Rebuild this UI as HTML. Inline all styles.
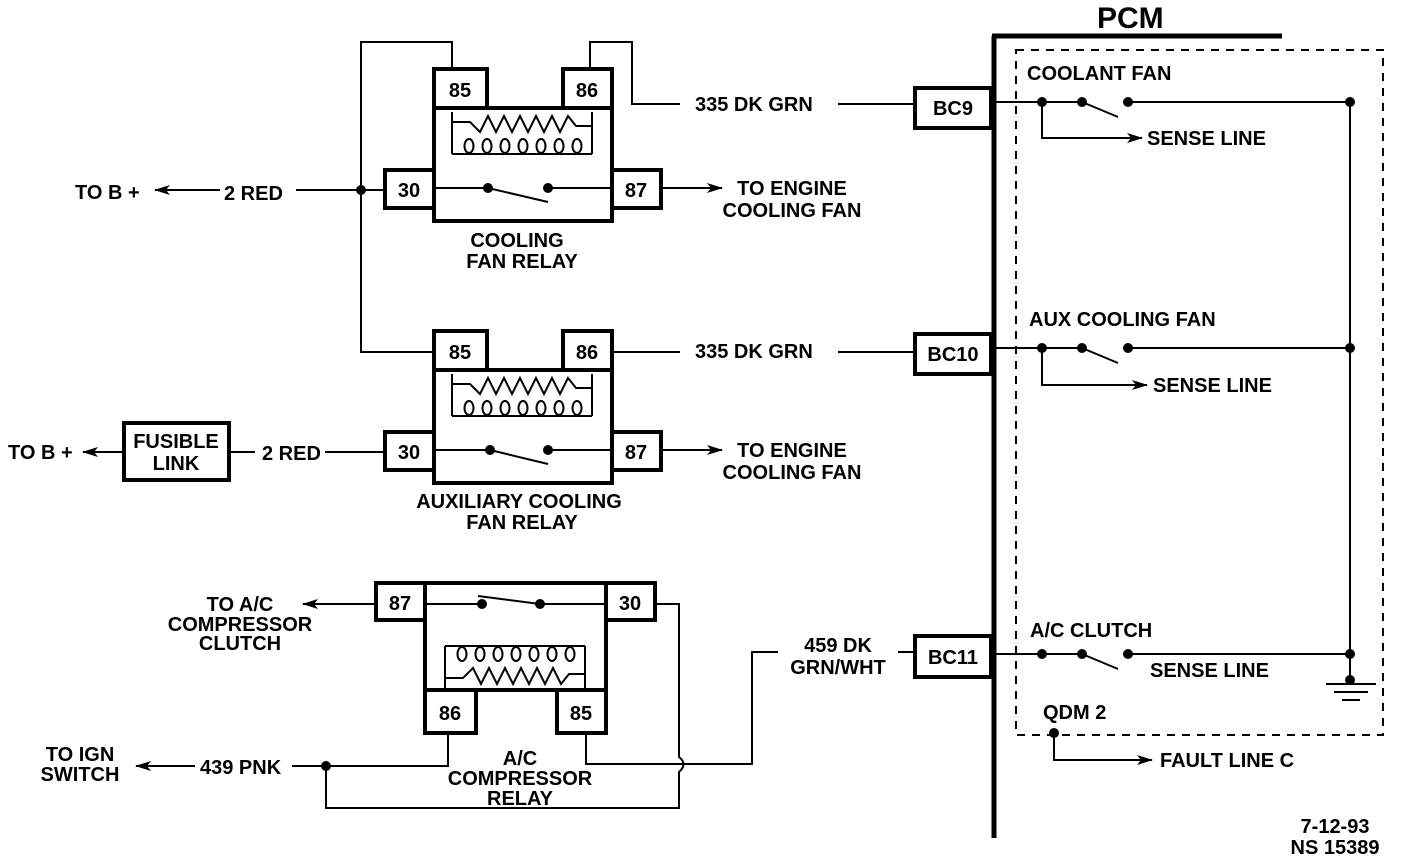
<!DOCTYPE html>
<html><head><meta charset="utf-8"><style>
html,body{margin:0;padding:0;background:#fff;}
svg{display:block;}
text{font-family:"Liberation Sans",sans-serif;font-weight:bold;font-size:20px;fill:#000;}
</style></head><body>
<svg width="1408" height="862" viewBox="0 0 1408 862" xmlns="http://www.w3.org/2000/svg">
<defs>
<marker id="ar" viewBox="0 0 16 10" refX="15" refY="5" markerWidth="16" markerHeight="10" markerUnits="userSpaceOnUse" orient="auto"><path d="M0,0 L16,5 L0,10 L4,5 Z" fill="#000"/></marker>
<g id="coil" fill="none" stroke="#000" stroke-width="2">
<path d="M0,2 V44 M140,2 V44"/>
<path d="M0,12 H18 L28,22 L36,6 L44,22 L52,6 L60,22 L68,6 L76,22 L84,6 L92,22 L100,6 L108,22 L116,6 L124,16 H140"/>
<path d="M0,44 H140"/>
<ellipse cx="17" cy="36" rx="4.5" ry="7"/><ellipse cx="35" cy="36" rx="4.5" ry="7"/><ellipse cx="53" cy="36" rx="4.5" ry="7"/><ellipse cx="71" cy="36" rx="4.5" ry="7"/><ellipse cx="89" cy="36" rx="4.5" ry="7"/><ellipse cx="107" cy="36" rx="4.5" ry="7"/><ellipse cx="125" cy="36" rx="4.5" ry="7"/>
</g>
</defs>
<g fill="none" stroke="#000">
<rect x="434" y="108" width="178" height="113" stroke-width="4"/>
<rect x="434" y="69" width="53" height="39" stroke-width="4"/>
<rect x="563" y="69" width="49" height="39" stroke-width="4"/>
<rect x="385" y="170" width="49" height="38" stroke-width="4"/>
<rect x="612" y="170" width="49" height="38" stroke-width="4"/>
<use href="#coil" x="452" y="110"/>
<path d="M434,188 H488 L548,202 M548,188 H612" stroke-width="2"/>
<path d="M452,69 V42 H361 V352 H434" stroke-width="2"/>
<path d="M590,69 V42 H632 V104 H680" stroke-width="2"/>
<path d="M838,104 H915" stroke-width="2"/>
<rect x="915" y="88" width="76" height="40" stroke-width="4"/>
<path d="M220,190 H155" stroke-width="2" marker-end="url(#ar)"/>
<path d="M296,190 H385" stroke-width="2"/>
<path d="M661,188 H722" stroke-width="2" marker-end="url(#ar)"/>
<rect x="434" y="370" width="178" height="113" stroke-width="4"/>
<rect x="434" y="331" width="53" height="39" stroke-width="4"/>
<rect x="563" y="331" width="49" height="39" stroke-width="4"/>
<rect x="385" y="432" width="49" height="38" stroke-width="4"/>
<rect x="612" y="432" width="49" height="38" stroke-width="4"/>
<use href="#coil" x="452" y="372"/>
<path d="M434,450 H490 L548,464 M548,450 H612" stroke-width="2"/>
<path d="M612,352 H680 M838,352 H915" stroke-width="2"/>
<rect x="915" y="334" width="76" height="40" stroke-width="4"/>
<rect x="124" y="423" width="105" height="57" stroke-width="4"/>
<path d="M124,452 H83" stroke-width="2" marker-end="url(#ar)"/>
<path d="M229,452 H255 M325,452 H385" stroke-width="2"/>
<path d="M661,450 H722" stroke-width="2" marker-end="url(#ar)"/>
<rect x="425" y="583" width="181" height="107" stroke-width="4"/>
<rect x="376" y="583" width="49" height="37" stroke-width="4"/>
<rect x="606" y="583" width="49" height="37" stroke-width="4"/>
<rect x="425" y="690" width="51" height="43" stroke-width="4"/>
<rect x="557" y="690" width="49" height="43" stroke-width="4"/>
<use href="#coil" transform="translate(445,690) scale(1,-1)"/>
<path d="M425,604 H482 M478,596 L540,604 M540,604 H606" stroke-width="2"/>
<path d="M376,604 H303" stroke-width="2" marker-end="url(#ar)"/>
<path d="M655,604 H679 V757 Q688,764 679,772 V808 H326 V766" stroke-width="2"/>
<path d="M448,733 V766 H292" stroke-width="2"/>
<path d="M195,766 H136" stroke-width="2" marker-end="url(#ar)"/>
<path d="M586,733 V764 H752 V652 H778" stroke-width="2"/>
<path d="M898,652 H915" stroke-width="2"/>
<rect x="915" y="636" width="76" height="41" stroke-width="4"/>
<path d="M994,36 V838 M992,36 H1282" stroke-width="5"/>
<rect x="1016" y="50" width="367" height="685" stroke-width="2" stroke-dasharray="8,7"/>
<path d="M991,102 H1042 M1042,102 H1082 L1118,117 M1128,102 H1350 V680" stroke-width="2"/>
<path d="M1042,102 V138 H1142" stroke-width="2" marker-end="url(#ar)"/>
<path d="M991,348 H1082 L1118,363 M1128,348 H1350" stroke-width="2"/>
<path d="M1042,348 V385 H1147" stroke-width="2" marker-end="url(#ar)"/>
<path d="M991,654 H1082 L1118,669 M1128,654 H1350" stroke-width="2"/>
<path d="M1326,684 H1376 M1334,692 H1368 M1342,700 H1360" stroke-width="2"/>
<path d="M1054,733 V760 H1152" stroke-width="2" marker-end="url(#ar)"/>
</g>
<g fill="#000">
<circle cx="361" cy="190" r="5"/><circle cx="488" cy="188" r="5"/><circle cx="548" cy="188" r="5"/>
<circle cx="490" cy="450" r="5"/><circle cx="548" cy="450" r="5"/>
<circle cx="482" cy="604" r="5"/><circle cx="540" cy="604" r="5"/><circle cx="326" cy="766" r="5"/>
<circle cx="1042" cy="102" r="5"/><circle cx="1082" cy="102" r="5"/><circle cx="1128" cy="102" r="5"/><circle cx="1350" cy="102" r="5"/>
<circle cx="1042" cy="348" r="5"/><circle cx="1082" cy="348" r="5"/><circle cx="1128" cy="348" r="5"/><circle cx="1350" cy="348" r="5"/>
<circle cx="1042" cy="654" r="5"/><circle cx="1082" cy="654" r="5"/><circle cx="1128" cy="654" r="5"/><circle cx="1350" cy="654" r="5"/><circle cx="1350" cy="680" r="5"/>
<circle cx="1054" cy="733" r="5"/>
</g>
<g text-anchor="middle">
<text x="460" y="97">85</text><text x="587" y="97">86</text>
<text x="409" y="197">30</text><text x="636" y="197">87</text>
<text x="460" y="359">85</text><text x="587" y="359">86</text>
<text x="409" y="459">30</text><text x="636" y="459">87</text>
<text x="400" y="610">87</text><text x="630" y="610">30</text>
<text x="450" y="720">86</text><text x="581" y="720">85</text>
<text x="953" y="115">BC9</text><text x="953" y="361">BC10</text><text x="953" y="664">BC11</text>
<text x="517" y="247">COOLING</text><text x="522" y="268">FAN RELAY</text>
<text x="519" y="508">AUXILIARY COOLING</text><text x="522" y="529">FAN RELAY</text>
<text x="176" y="448">FUSIBLE</text><text x="176" y="470">LINK</text>
<text x="792" y="195">TO ENGINE</text><text x="792" y="217">COOLING FAN</text>
<text x="792" y="457">TO ENGINE</text><text x="792" y="479">COOLING FAN</text>
<text x="240" y="611">TO A/C</text><text x="240" y="631">COMPRESSOR</text><text x="240" y="650">CLUTCH</text>
<text x="80" y="761">TO IGN</text><text x="80" y="781">SWITCH</text>
<text x="520" y="765">A/C</text><text x="520" y="785">COMPRESSOR</text><text x="520" y="805">RELAY</text>
<text x="838" y="652">459 DK</text><text x="838" y="674">GRN/WHT</text>
<text x="1335" y="833">7-12-93</text><text x="1335" y="854">NS 15389</text>
</g>
<text x="75" y="199">TO B +</text>
<text x="224" y="200">2 RED</text>
<text x="8" y="459">TO B +</text>
<text x="262" y="460">2 RED</text>
<text x="695" y="111">335 DK GRN</text>
<text x="695" y="358">335 DK GRN</text>
<text x="200" y="774">439 PNK</text>
<text x="1097" y="28" style="font-size:30px">PCM</text>
<text x="1027" y="80">COOLANT FAN</text>
<text x="1147" y="145">SENSE LINE</text>
<text x="1029" y="326">AUX COOLING FAN</text>
<text x="1153" y="392">SENSE LINE</text>
<text x="1030" y="637">A/C CLUTCH</text>
<text x="1150" y="677">SENSE LINE</text>
<text x="1043" y="719">QDM 2</text>
<text x="1160" y="767">FAULT LINE C</text>
</svg>
</body></html>
